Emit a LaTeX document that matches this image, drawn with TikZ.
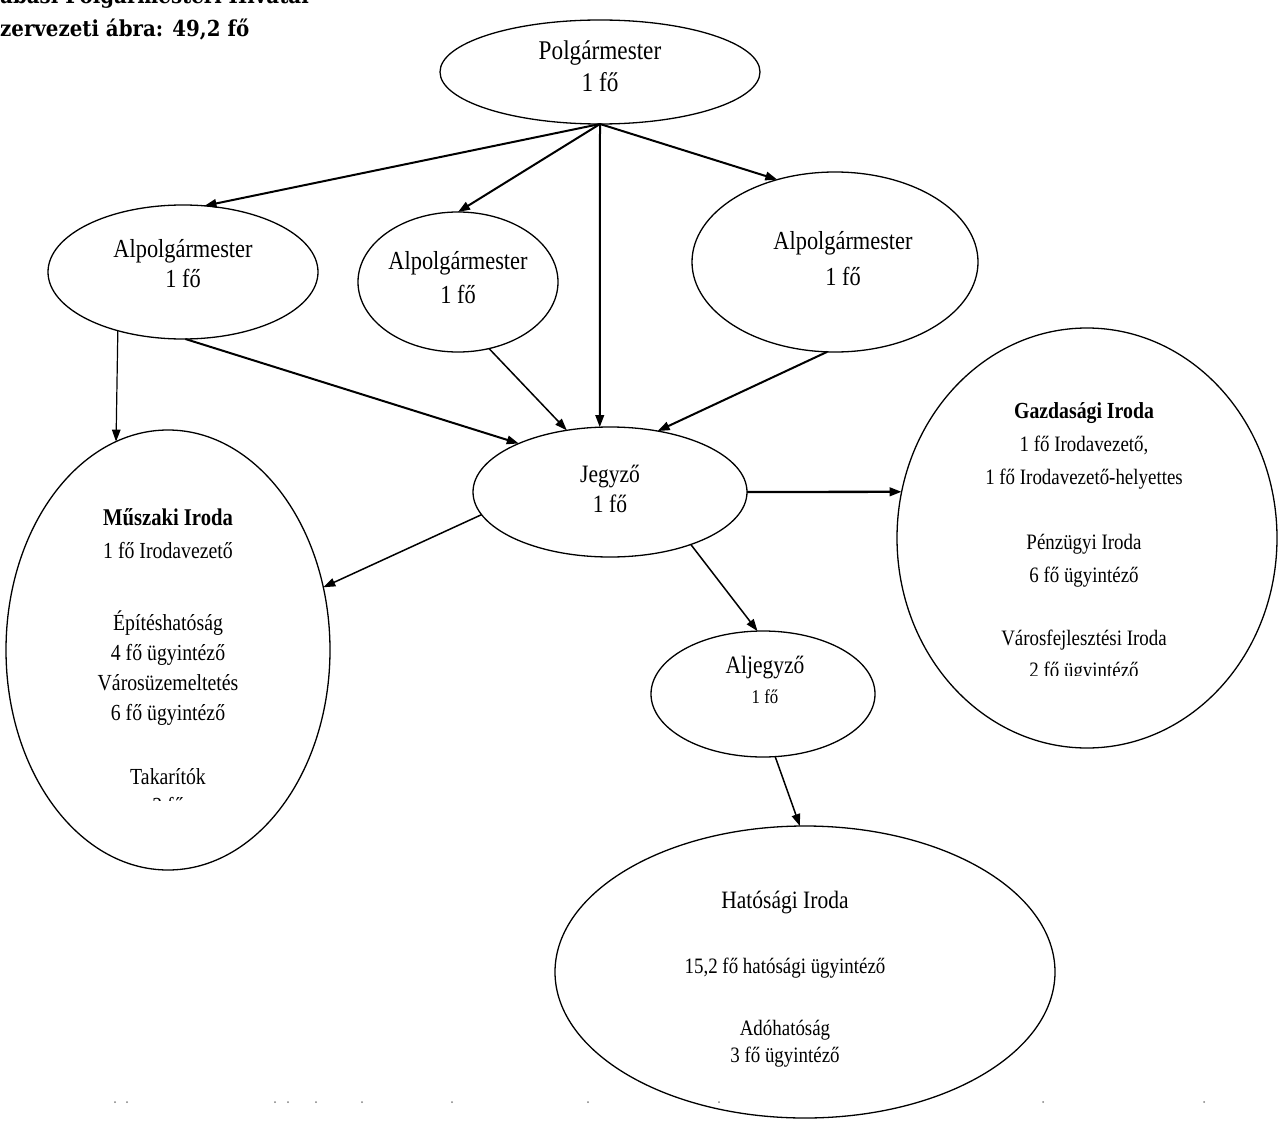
\documentclass[tikz,border=0pt]{standalone}
\usepackage{fontspec}
\setmainfont[FakeStretch=0.86]{Liberation Serif}
\newfontfamily\titlefont[FakeStretch=0.9]{DejaVu Serif}
\usetikzlibrary{shapes.geometric,arrows.meta}
\begin{document}
\begin{tikzpicture}[x=1pt,y=-1pt,
  box/.style={ellipse,draw,line width=1.3pt,inner sep=0pt,outer sep=0pt},
  txt/.style={align=center,inner sep=0pt},
  arr/.style={-{Triangle[length=12pt,width=8.5pt]},line width=1.5pt},
  tarr/.style={arr,line width=2pt},
  ttl/.style={anchor=base west,inner sep=0pt,font=\titlefont\bfseries\fontsize{22}{26}\selectfont}]
\useasboundingbox (0,0) rectangle (1279,1126);

% title (top line cut by the page edge, as in the scan)
\node[ttl] (title1) at (0,4) {abási Polgármesteri Hivatal};
\node[ttl] (title2) at (0,37) {zervezeti ábra: 49,2 fő};

% ellipses
\node[box,minimum width=320pt,minimum height=104pt] (polg) at (600,72) {};
\node[box,minimum width=270pt,minimum height=134pt] (alp1) at (183,272) {};
\node[box,minimum width=200pt,minimum height=140pt] (alp2) at (458,282) {};
\node[box,minimum width=286pt,minimum height=180pt] (alp3) at (835,262) {};
\node[box,minimum width=274pt,minimum height=130pt] (jeg) at (610,492) {};
\node[box,minimum width=324pt,minimum height=440pt] (mus) at (168,650) {};
\node[box,minimum width=380pt,minimum height=420pt] (gaz) at (1087,538) {};
\node[box,minimum width=224pt,minimum height=126pt] (alj) at (763,694) {};
\node[box,minimum width=500pt,minimum height=292pt] (hat) at (805,972) {};

% texts
\node[txt,font=\fontsize{27}{32}\selectfont] (polgT) at (600,66) {Polgármester\\1 fő};
\node[txt,font=\fontsize{26}{30}\selectfont] (alp1T) at (183,264) {Alpolgármester\\1 fő};
\node[txt,font=\fontsize{26}{34}\selectfont] (alp2T) at (458,278) {Alpolgármester\\1 fő};
\node[txt,font=\fontsize{26}{36}\selectfont] (alp3T) at (843,259) {Alpolgármester\\1 fő};
\node[txt,font=\fontsize{25}{30}\selectfont] (jegT) at (610,489) {Jegyző\\1 fő};
\node[txt,font=\fontsize{19.5}{30}\selectfont] (aljT) at (765,680) {{\fontsize{25}{30}\selectfont Aljegyző}\\1 fő};
\node[txt,font=\fontsize{23}{30}\selectfont] (musT) at (168,647)
  {{\bfseries\fontsize{24}{30}\selectfont Műszaki Iroda}\\[3pt]
   1 fő Irodavezető\\[42pt]
   Építéshatóság\\
   4 fő ügyintéző\\
   Városüzemeltetés\\
   6 fő ügyintéző\\[34pt]
   Takarítók};
\begin{scope}
  \clip (0,790) rectangle (340,800);
  \node[txt,font=\fontsize{23}{30}\selectfont] (musCut) at (168,806) {2 fő};
\end{scope}
\node[txt,font=\fontsize{22}{33}\selectfont] (gazT) at (1084,526)
  {{\bfseries\fontsize{23}{33}\selectfont Gazdasági Iroda}\\
   1 fő Irodavezető,\\
   1 fő Irodavezető-helyettes\\[32pt]
   Pénzügyi Iroda\\
   6 fő ügyintéző\\[30pt]
   Városfejlesztési Iroda};
\begin{scope}
  \clip (900,650) rectangle (1279,675);
  \node[txt,font=\fontsize{22}{33}\selectfont] (gazCut) at (1084,672) {2 fő ügyintéző};
\end{scope}
\node[txt,font=\fontsize{22}{27}\selectfont] (hatT) at (785,979)
  {{\fontsize{25}{27}\selectfont Hatósági Iroda}\\[38pt]
   15,2 fő hatósági ügyintéző\\[35pt]
   Adóhatóság\\
   3 fő ügyintéző};

% connectors
\draw[tarr] (polg.south) -- (alp1.72);
\draw[tarr] (polg.south) -- (alp2.north);
\draw[tarr] (polg.south) -- (jeg.99);
\draw[tarr] (polg.south) -- (alp3.125);
\draw[arr,line width=1.2pt] (alp1.222) -- (mus.104);
\draw[tarr] (alp1.272) -- (jeg.152);
\draw[arr] (alp2.295) -- (jeg.125);
\draw[tarr] (alp3.265) -- (jeg.52);
\draw[tarr,line width=2.3pt] (jeg.east) -- (gaz.166);
\draw[arr] (jeg.190) -- (mus.22);
\draw[arr] (jeg.327) -- (alj.95);
\draw[arr] (alj.281) -- (hat.92);

% faint dotted base line of the scan
\foreach \px in {115,127,275,288,316,362,452,588,719,1043,1204}
  \fill[gray] (\px,1102) circle (1);
\end{tikzpicture}
\end{document}
